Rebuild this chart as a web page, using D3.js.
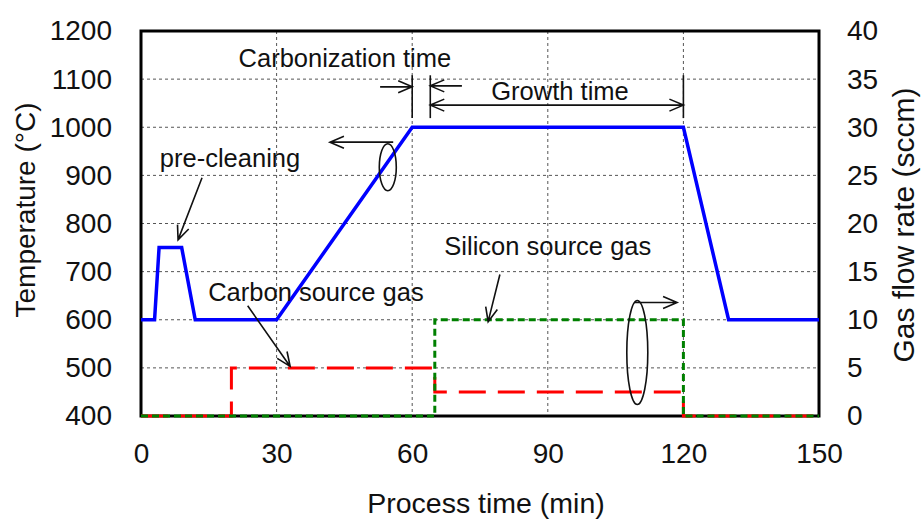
<!DOCTYPE html>
<html>
<head>
<meta charset="utf-8">
<script src="https://cdn.jsdelivr.net/npm/d3@7"></script>
<style>
  html, body { margin: 0; padding: 0; background: #fff; }
  svg { display: block; font-family: "Liberation Sans", Arial, sans-serif; }
</style>
</head>
<body>
<svg id="chart" width="921" height="520"></svg>
<script>
// Process schedule: substrate temperature and gas flow over time
const timeTicks = [0, 30, 60, 90, 120, 150];
const tempTicks = [400, 500, 600, 700, 800, 900, 1000, 1100, 1200];
const flowTicks = [0, 5, 10, 15, 20, 25, 30, 35, 40];

const tempTime  = [0, 3, 4, 9, 12, 30, 60, 120, 130, 150];
const tempValue = [600, 600, 750, 750, 600, 600, 1000, 1000, 600, 600];

const carbonTime = [0, 20, 20, 65, 65, 120, 120, 150];
const carbonFlow = [0, 0, 5, 5, 2.5, 2.5, 0, 0];

const siliconTime = [0, 65, 65, 120, 120, 150];
const siliconFlow = [0, 0, 10, 10, 0, 0];

const svg = d3.select("#chart");
const plot = { left: 141, right: 819, top: 31, bottom: 416 };

const x = d3.scaleLinear().domain([0, 150]).range([plot.left, plot.right]);
const yT = d3.scaleLinear().domain([400, 1200]).range([plot.bottom, plot.top]);
const yF = d3.scaleLinear().domain([0, 40]).range([plot.bottom, plot.top]);

// grid
const grid = svg.append("g").attr("stroke", "#555").attr("stroke-width", 1)
  .attr("stroke-dasharray", "3,3");
grid.selectAll("line.h").data(tempTicks.slice(1, -1)).join("line")
  .attr("x1", plot.left).attr("x2", plot.right)
  .attr("y1", d => yT(d)).attr("y2", d => yT(d));
grid.selectAll("line.v").data(timeTicks.slice(1, -1)).join("line")
  .attr("y1", plot.top).attr("y2", plot.bottom)
  .attr("x1", d => x(d)).attr("x2", d => x(d));

// axes
const fmt = d3.format("d");
const axL = svg.append("g").attr("transform", `translate(${plot.left},0)`)
  .call(d3.axisLeft(yT).tickValues(tempTicks).tickFormat(fmt).tickSize(0).tickPadding(29));
const axR = svg.append("g").attr("transform", `translate(${plot.right},0)`)
  .call(d3.axisRight(yF).tickValues(flowTicks).tickFormat(fmt).tickSize(0).tickPadding(28));
const axB = svg.append("g").attr("transform", `translate(0,${plot.bottom})`)
  .call(d3.axisBottom(x).tickValues(timeTicks).tickFormat(fmt).tickSize(0).tickPadding(27));
[axL, axR, axB].forEach(a => {
  a.select(".domain").remove();
  a.selectAll("text").attr("font-size", "28px").attr("fill", "#111")
    .attr("font-family", "Liberation Sans, Arial, sans-serif");
});

// frame
svg.append("rect")
  .attr("x", plot.left).attr("y", plot.top)
  .attr("width", plot.right - plot.left).attr("height", plot.bottom - plot.top)
  .attr("fill", "none").attr("stroke", "#000").attr("stroke-width", 3);

// series
const lineT = d3.line().x(d => x(d[0])).y(d => yT(d[1]));
const lineF = d3.line().x(d => x(d[0])).y(d => yF(d[1]));

svg.append("path").datum(d3.zip(carbonTime, carbonFlow))
  .attr("d", lineF).attr("fill", "none").attr("stroke", "#ff0000")
  .attr("stroke-width", 3).attr("stroke-dasharray", "27,12");
svg.append("path").datum(d3.zip(siliconTime, siliconFlow))
  .attr("d", lineF).attr("fill", "none").attr("stroke", "#008000")
  .attr("stroke-width", 3).attr("stroke-dasharray", "7,4");
svg.append("path").datum(d3.zip(tempTime, tempValue))
  .attr("d", lineT).attr("fill", "none").attr("stroke", "#0000ff")
  .attr("stroke-width", 3.5).attr("stroke-linejoin", "miter");

// axis titles
svg.append("text").attr("x", 486).attr("y", 513).attr("text-anchor", "middle")
  .attr("font-size", "28.5px").attr("fill", "#111").text("Process time (min)");
svg.append("text").attr("transform", "translate(35,210) rotate(-90)")
  .attr("text-anchor", "middle").attr("font-size", "28px").attr("fill", "#111")
  .text("Temperature (°C)");
svg.append("text").attr("transform", "translate(914,225) rotate(-90)")
  .attr("text-anchor", "middle").attr("font-size", "30px").attr("fill", "#111")
  .text("Gas flow rate (sccm)");

// annotations (positions in data units)
const ann = svg.append("g").attr("stroke", "#111").attr("stroke-width", 1.6)
  .attr("fill", "none");

function arrowHead(x2, y2, x1, y1, len = 14, half = 6) {
  const a = Math.atan2(y2 - y1, x2 - x1);
  const bx = x2 - len * Math.cos(a), by = y2 - len * Math.sin(a);
  const nx = -Math.sin(a) * half, ny = Math.cos(a) * half;
  return `M${bx + nx},${by + ny}L${x2},${y2}L${bx - nx},${by - ny}`;
}
function arrow(x1, y1, x2, y2, both = false) {
  let d = `M${x1},${y1}L${x2},${y2}` + arrowHead(x2, y2, x1, y1);
  if (both) d += arrowHead(x1, y1, x2, y2);
  ann.append("path").attr("d", d);
}
function label(text, cx, baseline) {
  svg.append("text").attr("x", cx).attr("y", baseline).attr("text-anchor", "middle")
    .attr("font-size", "25.5px").attr("fill", "#111").text(text);
}

// carbonization / growth time markers
[60, 64, 120].forEach(t => {
  ann.append("line").attr("x1", x(t)).attr("x2", x(t))
    .attr("y1", yT(1108)).attr("y2", yT(1019));
});
arrow(x(52.9), yT(1084), x(60), yT(1084));
arrow(x(71), yT(1086), x(64), yT(1086));
arrow(x(64), yT(1046), x(120), yT(1046), true);
label("Carbonization time", x(45.1), yT(1125));
label("Growth time", x(92.7), yT(1057));

// temperature curve pointer (left axis)
ann.append("ellipse").attr("cx", x(54.6)).attr("cy", yT(917))
  .attr("rx", 8.5).attr("ry", 23.5);
arrow(x(55.8), yT(969), x(41.8), yT(969));

// flow curves pointer (right axis)
ann.append("ellipse").attr("cx", x(109.8)).attr("cy", yF(6.6))
  .attr("rx", 10.5).attr("ry", 52);
arrow(x(109.2), yF(11.8), x(118.6), yF(11.8));

// labelled pointers
label("pre-cleaning", x(19.7), yT(917));
arrow(x(13.5), yT(895), x(8.2), yT(766));
label("Carbon source gas", x(38.7), yT(640));
arrow(x(23.6), yT(629), x(33), yT(503));
label("Silicon source gas", x(90), yT(734));
arrow(x(79.4), yT(694), x(76.8), yT(596));
</script>
</body>
</html>
